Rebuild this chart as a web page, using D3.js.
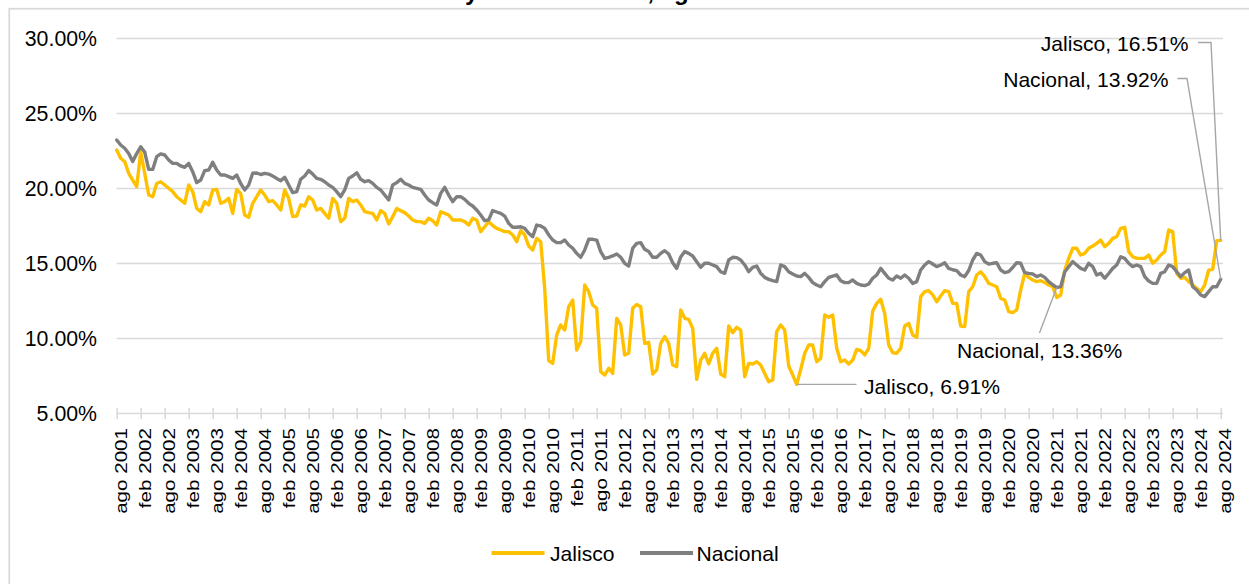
<!DOCTYPE html>
<html><head><meta charset="utf-8">
<script src="https://cdn.jsdelivr.net/npm/d3@7"></script>
<style>
body{margin:0;background:#fff}
svg{display:block}
text{font-family:"Liberation Sans",Arial,sans-serif;fill:#000}
</style>
</head><body>
<svg id="chart" width="1249" height="584"></svg>
<script>
// ---------- DATA ----------
const startYear = 2001, startMonthIndex = 7; // agosto 2001
const monthAbbr = ["ene","feb","mar","abr","may","jun","jul","ago","sep","oct","nov","dic"];
const months = d3.range(277).map(i => {
  const t = startMonthIndex + i;
  return monthAbbr[t % 12] + " " + (startYear + Math.floor(t / 12));
});
const tickLabels = months.filter((d, i) => i % 6 === 0);
const yTicks = [5, 10, 15, 20, 25, 30];
const seriesNames = ["Jalisco", "Nacional"];

const jalisco = [
22.53,21.98,21.76,20.98,20.53,20.09,22.42,20.98,19.53,19.42,20.3,20.42,
20.2,19.98,19.76,19.42,19.2,18.98,20.2,19.76,18.64,18.42,19.09,18.87,
19.87,19.91,18.98,19.09,19.31,18.31,19.91,19.64,18.2,18.04,18.98,19.42,
19.87,19.53,19.09,19.16,18.87,18.53,19.87,19.31,18.09,18.13,18.87,18.8,
19.42,19.2,18.53,18.64,18.31,17.98,19.31,18.98,17.76,17.98,19.31,19.09,
19.2,18.87,18.42,18.36,18.31,17.87,18.49,18.31,17.6,18.09,18.64,18.49,
18.36,18.13,17.87,17.76,17.76,17.64,17.98,17.82,17.53,18.42,18.31,18.2,
17.87,17.87,17.87,17.76,17.53,17.98,17.87,17.09,17.42,17.76,17.5,17.31,
17.2,17.09,17.09,16.87,16.42,17.16,16.87,16.13,15.87,16.64,16.42,13.3,
8.49,8.31,10.2,10.87,10.53,12.09,12.53,9.2,9.76,13.53,13.09,12.2,
11.98,7.76,7.53,7.98,7.64,11.31,10.87,8.87,8.98,11.98,12.24,12.09,
9.64,9.71,7.6,7.87,9.64,10.09,9.64,8.2,8.09,11.87,11.31,11.24,
10.64,7.24,8.53,8.98,8.27,8.98,9.31,7.6,7.42,10.8,10.36,10.71,
10.53,7.42,8.31,8.27,8.42,8.2,7.64,7.09,7.2,10.42,10.87,10.53,
8.13,7.53,6.91,7.9,8.98,9.53,9.53,8.42,8.64,11.53,11.38,11.53,
9.31,8.42,8.53,8.27,8.53,9.24,9.16,8.87,9.31,11.8,12.31,12.58,
11.64,9.53,9.02,8.98,9.31,10.8,10.98,10.2,10.04,12.76,13.09,13.16,
12.87,12.42,12.8,13.16,13.09,12.31,12.31,10.8,10.76,13.09,13.42,14.2,
14.42,14.09,13.64,13.53,13.42,12.64,12.53,11.76,11.69,11.87,13.2,14.3,
14.04,13.87,13.76,13.82,13.7,13.53,13.42,12.7,12.87,14.5,15.31,15.98,
15.98,15.53,15.64,15.98,16.13,16.31,16.53,16.09,16.31,16.64,16.76,17.31,
17.38,15.76,15.42,15.31,15.31,15.31,15.53,14.98,15.2,15.53,15.76,17.2,
17.09,14.31,13.98,14.04,13.76,13.53,13.31,13.09,13.53,14.53,14.58,16.49,
16.51
];

const nacional = [
23.2,22.87,22.65,22.3,21.76,22.3,22.75,22.4,21.24,21.24,22.09,22.27,
22.2,21.87,21.64,21.64,21.47,21.38,21.64,21.09,20.36,20.53,21.16,21.2,
21.71,21.2,20.87,20.87,20.76,20.64,20.87,20.3,19.87,20.2,20.98,21.0,
20.9,20.98,20.93,20.8,20.64,20.49,20.71,20.2,19.69,19.76,20.58,20.8,
21.16,20.93,20.64,20.58,20.42,20.2,20.04,19.76,19.42,19.87,20.64,20.8,
21.02,20.58,20.42,20.49,20.31,20.04,19.87,19.53,19.2,20.2,20.36,20.58,
20.31,20.2,20.04,19.98,19.91,19.53,19.2,19.02,18.87,19.64,20.04,19.53,
19.09,19.42,19.42,19.24,18.98,18.8,18.53,18.2,17.82,17.87,18.5,18.4,
18.31,18.13,17.64,17.38,17.38,17.42,17.31,16.98,16.76,17.53,17.47,17.31,
16.87,16.53,16.36,16.36,16.53,16.2,15.98,15.64,15.38,15.87,16.58,16.58,
16.53,15.76,15.31,15.38,15.47,15.6,15.38,14.98,14.8,15.98,16.31,16.36,
15.91,15.76,15.38,15.38,15.64,15.82,15.6,15.02,14.64,15.4,15.76,15.64,
15.47,15.09,14.71,14.98,14.98,14.87,14.76,14.42,14.31,15.2,15.38,15.36,
15.2,14.87,14.42,14.71,14.8,14.31,14.04,13.91,13.82,13.76,14.87,14.76,
14.42,14.27,14.13,14.09,14.31,14.04,13.69,13.53,13.42,13.76,14.04,14.13,
14.2,13.82,13.69,13.69,13.87,13.64,13.53,13.49,13.6,13.98,14.2,14.64,
14.31,13.98,13.87,14.13,13.98,14.2,13.98,13.64,13.76,14.53,14.87,15.09,
14.93,14.76,14.87,15.02,14.64,14.55,14.49,14.2,14.09,14.5,15.2,15.64,
15.53,15.09,14.93,14.98,15.02,14.53,14.36,14.42,14.7,15.02,14.98,14.36,
14.31,14.27,14.09,14.2,14.04,13.76,13.55,13.36,13.42,14.4,14.75,15.09,
14.87,14.64,14.53,14.98,14.76,14.2,14.31,13.98,14.3,14.64,14.87,15.42,
15.31,14.98,14.76,14.87,14.76,14.09,13.8,13.64,13.64,14.31,14.42,14.87,
14.76,14.42,14.09,14.36,14.53,13.42,13.2,12.87,12.76,13.09,13.42,13.42,
13.92
];

// labelled points: series, month
const annotSeries = ["Jalisco", "Nacional", "Nacional", "Jalisco"];
const annotMonths = ["ago 2024", "ago 2024", "mar 2021", "oct 2015"];

const titleText = "Tasa de informalidad laboral en Jalisco y Total Nacional, agosto 2024";

// ---------- CHART ----------
(function () {
const colors = {Jalisco: "#FFC000", Nacional: "#7F7F7F"};
const values = {Jalisco: jalisco, Nacional: nacional};
const fmt = v => v.toFixed(2) + "%";

const svg = d3.select("#chart");
const pL = 116.7, pR = 1220.7, gridRight = 1223, pT = 38, pB = 413;

const x = d3.scalePoint().domain(months).range([pL, pR]);
const y = d3.scaleLinear().domain([5, 30]).range([pB, pT]);

// outer border
svg.append("rect").attr("x", 9.25).attr("y", 8.75).attr("width", 1300).attr("height", 700)
  .attr("fill", "none").attr("stroke", "#d9d9d9").attr("stroke-width", 1.75);

// title, clipped by the top edge in the reference (only descenders show)
svg.append("text").attr("x", 12).attr("y", -0.4)
  .attr("font-size", 24).attr("font-weight", "bold").text(titleText);

// gridlines
const grid = svg.append("g").attr("transform", `translate(${pL},0)`)
  .call(d3.axisLeft(y).tickValues(yTicks.filter(t => t !== 5)).tickSize(-(gridRight - pL)).tickFormat(""));
grid.select(".domain").remove();
grid.selectAll("line").attr("stroke", "#d9d9d9").attr("stroke-width", 1.3);

// y axis labels
const yAxis = svg.append("g").attr("transform", `translate(${pL},0)`)
  .call(d3.axisLeft(y).tickValues(yTicks).tickSize(0).tickPadding(19.7).tickFormat(fmt));
yAxis.select(".domain").remove();
yAxis.selectAll("text").attr("font-size", 21.3).attr("fill", "#000")
  .attr("font-family", "'Liberation Sans', Arial, sans-serif").attr("dy", "0.35em");

// x axis
const xAxis = svg.append("g").attr("transform", `translate(0,${pB})`)
  .call(d3.axisBottom(x).tickValues(tickLabels).tickSizeInner(6).tickSizeOuter(0));
xAxis.select(".domain").attr("d", `M${pL},0.5H${gridRight}`).attr("stroke", "#d9d9d9").attr("stroke-width", 1.5);
xAxis.selectAll(".tick line").attr("y1", -5).attr("y2", 6).attr("stroke", "#d9d9d9").attr("stroke-width", 1.5);
xAxis.selectAll(".tick text")
  .attr("x", null).attr("y", null).attr("dy", null)
  .attr("text-anchor", "end")
  .attr("transform", "translate(10,15) rotate(-90) scale(1,0.76)")
  .attr("font-size", 20.6).attr("fill", "#000")
  .attr("font-family", "'Liberation Sans', Arial, sans-serif");

// lines
const line = d3.line().x((d, i) => x(months[i])).y(d => y(d)).curve(d3.curveLinear);
seriesNames.forEach(name => {
  svg.append("path").datum(values[name])
    .attr("fill", "none").attr("stroke", colors[name]).attr("stroke-width", 3.4)
    .attr("stroke-linejoin", "round").attr("stroke-linecap", "round")
    .attr("d", line);
});

// annotations
const annLayout = [
  {anchor: "end", tx: 1188.5, ty: 51, leader: [[1198, 42.5], [1211, 42.5]]},
  {anchor: "end", tx: 1168.5, ty: 86.5, leader: [[1177.5, 78.5], [1187, 78.5]]},
  {anchor: "start", tx: 957, ty: 357.5, leader: [[1039.5, 333]]},
  {anchor: "start", tx: 864, ty: 393.5, leader: "h", hx: 856.5}
];
annotSeries.forEach((s, k) => {
  const idx = months.indexOf(annotMonths[k]);
  const v = values[s][idx];
  const px = x(months[idx]), py = y(v);
  const L = annLayout[k];
  let pts;
  if (L.leader === "h") pts = [[px, py], [L.hx, py]];
  else pts = L.leader.concat([[px, py]]);
  svg.append("path").attr("d", d3.line()(pts)).attr("fill", "none")
    .attr("stroke", "#a6a6a6").attr("stroke-width", 1.4);
  svg.append("text").attr("x", L.tx).attr("y", L.ty).attr("text-anchor", L.anchor)
    .attr("font-size", 21.1).text(`${s}, ${fmt(v)}`);
});

// legend
const legendItems = [
  {name: "Jalisco", lx: 491.5, tx: 550},
  {name: "Nacional", lx: 640, tx: 696.5}
];
const lg = svg.append("g");
legendItems.forEach(it => {
  lg.append("line").attr("x1", it.lx).attr("x2", it.lx + 53).attr("y1", 553).attr("y2", 553)
    .attr("stroke", colors[it.name]).attr("stroke-width", 4);
  lg.append("text").attr("x", it.tx).attr("y", 560.5).attr("font-size", 21.1).text(it.name);
});
})();
</script>
</body></html>
